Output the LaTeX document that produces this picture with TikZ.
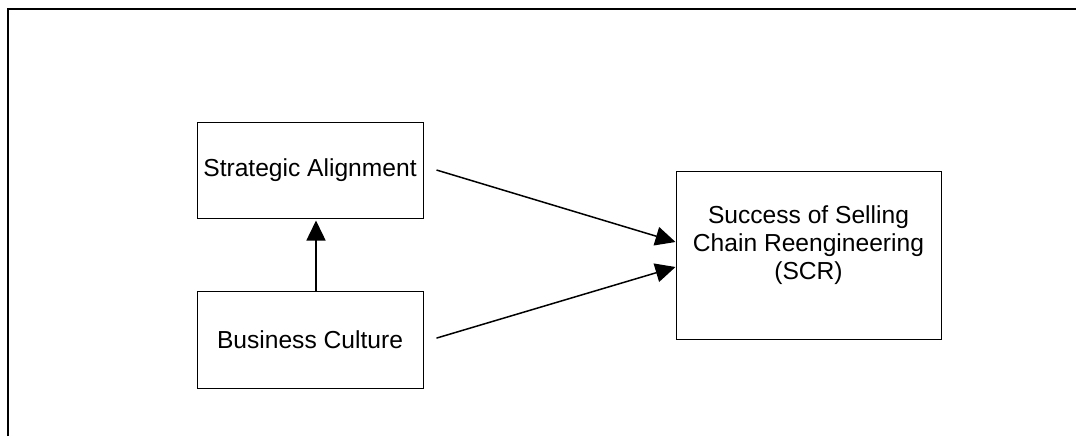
\documentclass[tikz,border=0pt]{standalone}
\usepackage{fontspec}
\setmainfont{Liberation Sans}
\usetikzlibrary{arrows.meta,calc}
\begin{document}
\begin{tikzpicture}[x=0.5pt,y=-0.5pt,
  boxnode/.style={draw=black,line width=0.5pt,rectangle,inner sep=0pt,
    font=\fontsize{12.3}{14}\selectfont,align=center},
  conn/.style={line width=0.75pt,-{Triangle[length=10pt,width=9.5pt]}},
  frameline/.style={line width=1pt}]
\useasboundingbox (0,0) rectangle (1076,436);
\coordinate (ftl) at (8,9);
\coordinate (ftr) at (1076,9);
\coordinate (fbl) at (8,436);
\draw[frameline] (fbl) -- (ftl) -- (ftr);
\node[boxnode,minimum width=113pt,minimum height=48pt] (sa) at (310,170) {Strategic Alignment};
\node[boxnode,minimum width=113pt,minimum height=48.5pt] (bc) at (310,339.5) {Business Culture};
\node[boxnode,minimum width=132.5pt,minimum height=84pt] (scr) at (808.5,255) {};
\node[font=\fontsize{12.3}{14}\selectfont,align=center,inner sep=0pt] (scrtext) at (808.5,245) {Success of Selling\\Chain Reengineering\\(SCR)};
\coordinate (sastart) at ([xshift=6.5pt]sa.east);
\coordinate (bcstart) at ([xshift=6.5pt,yshift=0.7pt]bc.east);
\draw[conn] (sastart) -- ([yshift=6.5pt]scr.west);
\draw[conn] (bcstart) -- ([yshift=-6pt]scr.west);
\draw[conn] ([xshift=3pt]bc.north) -- ([xshift=3pt,yshift=-1pt]sa.south);
\end{tikzpicture}
\end{document}
